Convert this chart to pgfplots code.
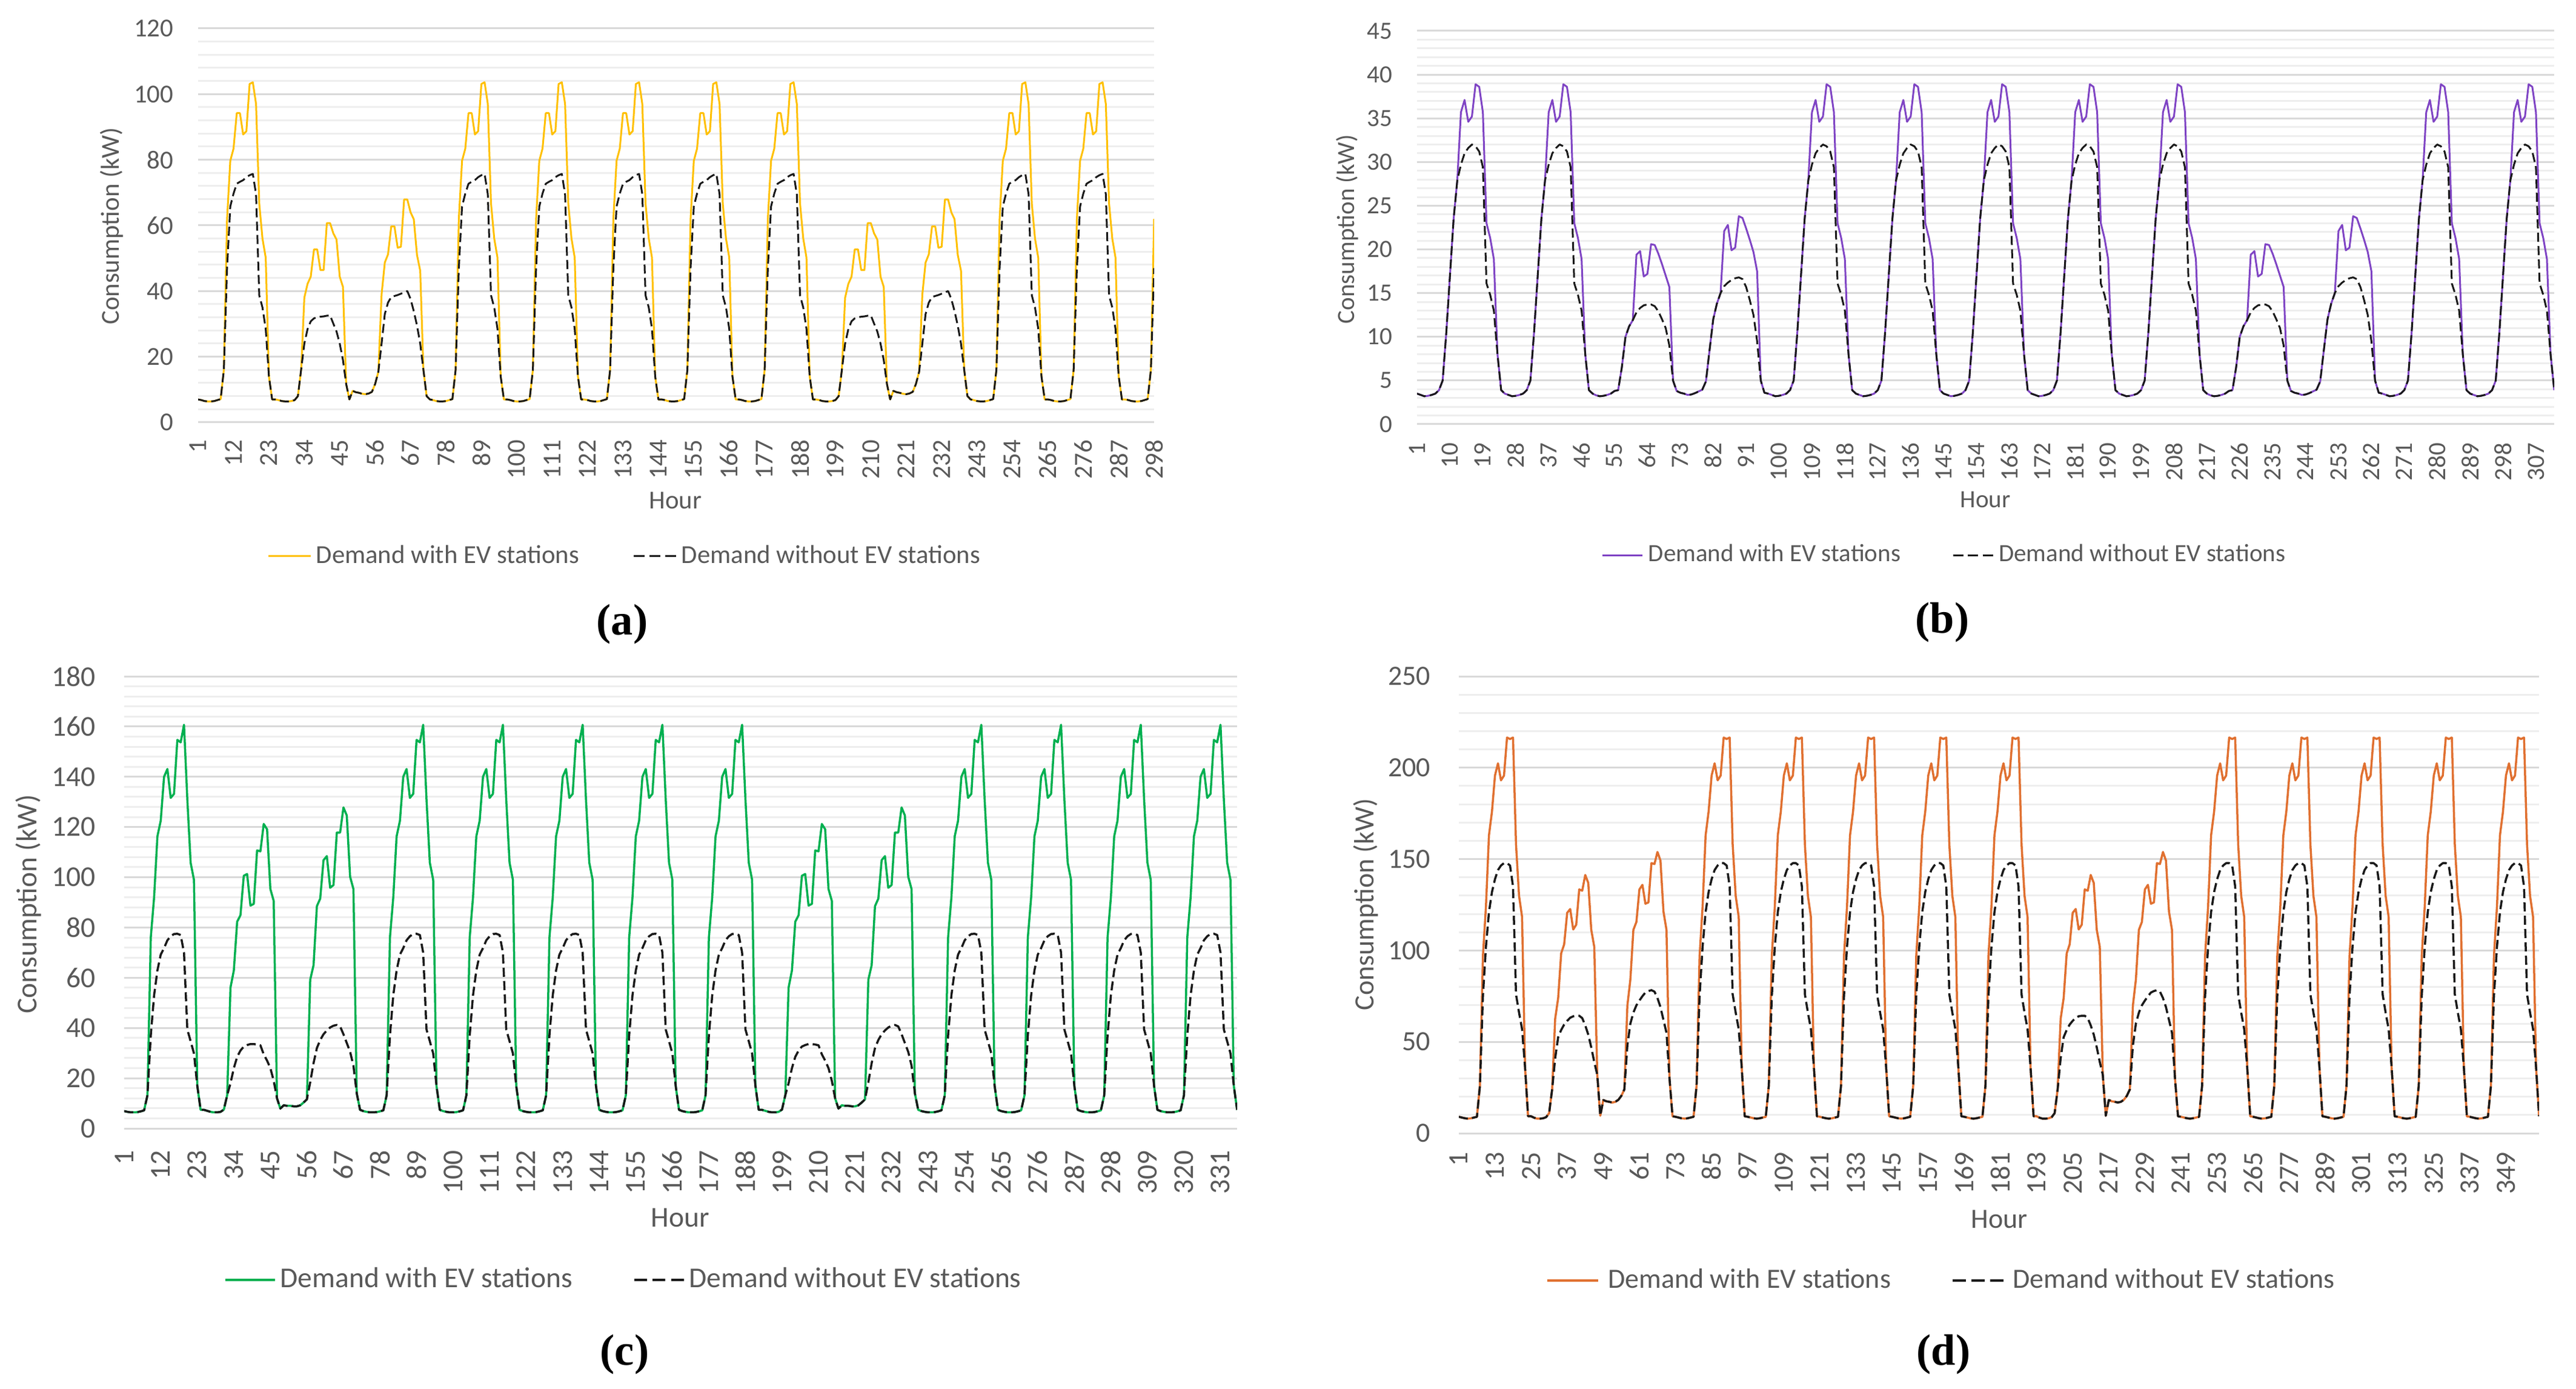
\documentclass[border=0pt]{standalone}
\usepackage{pgfplots}
\pgfplotsset{compat=1.18}
\usepackage{pgfplotstable}
\usepackage{fontspec}
\setmainfont{Carlito}
\newfontfamily\capfont{Liberation Serif}
\definecolor{tickgray}{HTML}{595959}
\definecolor{gridmaj}{HTML}{D9D9D9}
\definecolor{gridmin}{HTML}{EEEEEE}
\definecolor{cA}{HTML}{FFC000}
\definecolor{cB}{HTML}{7F44C4}
\definecolor{cC}{HTML}{00B050}
\definecolor{cD}{HTML}{E07030}

% ---------------- panel (a) ----------------
\pgfplotstableread[row sep=\\]{
w wo\\
7.0 7.0\\ 6.8 6.8\\ 6.5 6.5\\ 6.4 6.4\\ 6.4 6.4\\ 6.5 6.5\\ 6.8 6.8\\ 7.1 7.1\\ 16 16\\ 62 47\\ 79.7 65.8\\ 83.4 69.7\\ 94.2 72.7\\ 94.2 73.3\\ 87.7 73.8\\ 88.7 74.7\\ 103.1 75.3\\ 103.6 75.7\\ 97 69.5\\ 66.7 38.7\\ 56 35\\ 50.2 28.5\\ 14 14\\ 7.0 7.0\\
7.0 7.0\\ 6.8 6.8\\ 6.5 6.5\\ 6.4 6.4\\ 6.4 6.4\\ 6.5 6.5\\ 6.8 6.8\\ 8.0 8.0\\ 16 16\\ 38 24\\ 42.2 28.4\\ 44.4 30.8\\ 52.7 31.7\\ 52.7 32.0\\ 46.4 32.2\\ 46.4 32.3\\ 60.7 32.5\\ 60.7 32.6\\ 57.6 30.1\\ 55.7 27.7\\ 44.4 24\\ 41.3 19\\ 11.7 11.7\\ 7.0 7.0\\
9.6 9.6\\ 9.2 9.2\\ 9.0 9.0\\ 8.7 8.7\\ 8.6 8.6\\ 8.8 8.8\\ 9.3 9.3\\ 11.7 11.7\\ 15.4 15.4\\ 39 24\\ 48.7 33\\ 51.2 36.5\\ 59.7 38.2\\ 59.7 38.5\\ 53.2 38.8\\ 53.5 39.2\\ 67.9 39.6\\ 67.9 40.0\\ 64 37.6\\ 61.9 33.9\\ 51 29.5\\ 46.2 24\\ 16 16\\ 8.0 8.0\\
7.0 7.0\\ 6.8 6.8\\ 6.5 6.5\\ 6.4 6.4\\ 6.4 6.4\\ 6.5 6.5\\ 6.8 6.8\\ 7.1 7.1\\ 16 16\\ 62 47\\ 79.7 65.8\\ 83.4 69.7\\ 94.2 72.7\\ 94.2 73.3\\ 87.7 73.8\\ 88.7 74.7\\ 103.1 75.3\\ 103.6 75.7\\ 97 69.5\\ 66.7 38.7\\ 56 35\\ 50.2 28.5\\ 14 14\\ 7.0 7.0\\
7.0 7.0\\ 6.8 6.8\\ 6.5 6.5\\ 6.4 6.4\\ 6.4 6.4\\ 6.5 6.5\\ 6.8 6.8\\ 7.1 7.1\\ 16 16\\ 62 47\\ 79.7 65.8\\ 83.4 69.7\\ 94.2 72.7\\ 94.2 73.3\\ 87.7 73.8\\ 88.7 74.7\\ 103.1 75.3\\ 103.6 75.7\\ 97 69.5\\ 66.7 38.7\\ 56 35\\ 50.2 28.5\\ 14 14\\ 7.0 7.0\\
7.0 7.0\\ 6.8 6.8\\ 6.5 6.5\\ 6.4 6.4\\ 6.4 6.4\\ 6.5 6.5\\ 6.8 6.8\\ 7.1 7.1\\ 16 16\\ 62 47\\ 79.7 65.8\\ 83.4 69.7\\ 94.2 72.7\\ 94.2 73.3\\ 87.7 73.8\\ 88.7 74.7\\ 103.1 75.3\\ 103.6 75.7\\ 97 69.5\\ 66.7 38.7\\ 56 35\\ 50.2 28.5\\ 14 14\\ 7.0 7.0\\
7.0 7.0\\ 6.8 6.8\\ 6.5 6.5\\ 6.4 6.4\\ 6.4 6.4\\ 6.5 6.5\\ 6.8 6.8\\ 7.1 7.1\\ 16 16\\ 62 47\\ 79.7 65.8\\ 83.4 69.7\\ 94.2 72.7\\ 94.2 73.3\\ 87.7 73.8\\ 88.7 74.7\\ 103.1 75.3\\ 103.6 75.7\\ 97 69.5\\ 66.7 38.7\\ 56 35\\ 50.2 28.5\\ 14 14\\ 7.0 7.0\\
7.0 7.0\\ 6.8 6.8\\ 6.5 6.5\\ 6.4 6.4\\ 6.4 6.4\\ 6.5 6.5\\ 6.8 6.8\\ 7.1 7.1\\ 16 16\\ 62 47\\ 79.7 65.8\\ 83.4 69.7\\ 94.2 72.7\\ 94.2 73.3\\ 87.7 73.8\\ 88.7 74.7\\ 103.1 75.3\\ 103.6 75.7\\ 97 69.5\\ 66.7 38.7\\ 56 35\\ 50.2 28.5\\ 14 14\\ 7.0 7.0\\
7.0 7.0\\ 6.8 6.8\\ 6.5 6.5\\ 6.4 6.4\\ 6.4 6.4\\ 6.5 6.5\\ 6.8 6.8\\ 8.0 8.0\\ 16 16\\ 38 24\\ 42.2 28.4\\ 44.4 30.8\\ 52.7 31.7\\ 52.7 32.0\\ 46.4 32.2\\ 46.4 32.3\\ 60.7 32.5\\ 60.7 32.6\\ 57.6 30.1\\ 55.7 27.7\\ 44.4 24\\ 41.3 19\\ 11.7 11.7\\ 7.0 7.0\\
9.6 9.6\\ 9.2 9.2\\ 9.0 9.0\\ 8.7 8.7\\ 8.6 8.6\\ 8.8 8.8\\ 9.3 9.3\\ 11.7 11.7\\ 15.4 15.4\\ 39 24\\ 48.7 33\\ 51.2 36.5\\ 59.7 38.2\\ 59.7 38.5\\ 53.2 38.8\\ 53.5 39.2\\ 67.9 39.6\\ 67.9 40.0\\ 64 37.6\\ 61.9 33.9\\ 51 29.5\\ 46.2 24\\ 16 16\\ 8.0 8.0\\
7.0 7.0\\ 6.8 6.8\\ 6.5 6.5\\ 6.4 6.4\\ 6.4 6.4\\ 6.5 6.5\\ 6.8 6.8\\ 7.1 7.1\\ 16 16\\ 62 47\\ 79.7 65.8\\ 83.4 69.7\\ 94.2 72.7\\ 94.2 73.3\\ 87.7 73.8\\ 88.7 74.7\\ 103.1 75.3\\ 103.6 75.7\\ 97 69.5\\ 66.7 38.7\\ 56 35\\ 50.2 28.5\\ 14 14\\ 7.0 7.0\\
7.0 7.0\\ 6.8 6.8\\ 6.5 6.5\\ 6.4 6.4\\ 6.4 6.4\\ 6.5 6.5\\ 6.8 6.8\\ 7.1 7.1\\ 16 16\\ 62 47\\ 79.7 65.8\\ 83.4 69.7\\ 94.2 72.7\\ 94.2 73.3\\ 87.7 73.8\\ 88.7 74.7\\ 103.1 75.3\\ 103.6 75.7\\ 97 69.5\\ 66.7 38.7\\ 56 35\\ 50.2 28.5\\ 14 14\\ 7.0 7.0\\
7.0 7.0\\ 6.8 6.8\\ 6.5 6.5\\ 6.4 6.4\\ 6.4 6.4\\ 6.5 6.5\\ 6.8 6.8\\ 7.1 7.1\\ 16 16\\ 62 47\\
}\tabA

% ---------------- panel (b) ----------------
\pgfplotstableread[row sep=\\]{
w wo\\
3.5 3.5\\ 3.35 3.35\\ 3.2 3.2\\ 3.25 3.25\\ 3.35 3.35\\ 3.5 3.5\\ 3.9 3.9\\ 5.0 5.0\\ 10.5 10.5\\ 17 17\\ 23.5 23.5\\ 27.9 27.9\\ 35.7 29.7\\ 37.1 31.0\\ 34.6 31.6\\ 35.2 32.0\\ 38.9 31.8\\ 38.6 31.2\\ 35.7 29.4\\ 23.0 16.1\\ 21.3 14.8\\ 18.9 13.0\\ 8.0 8.0\\ 3.9 3.9\\
3.5 3.5\\ 3.35 3.35\\ 3.2 3.2\\ 3.25 3.25\\ 3.35 3.35\\ 3.5 3.5\\ 3.9 3.9\\ 5.0 5.0\\ 10.5 10.5\\ 17 17\\ 23.5 23.5\\ 27.9 27.9\\ 35.7 29.7\\ 37.1 31.0\\ 34.6 31.6\\ 35.2 32.0\\ 38.9 31.8\\ 38.6 31.2\\ 35.7 29.4\\ 23.0 16.1\\ 21.3 14.8\\ 18.9 13.0\\ 8.0 8.0\\ 3.9 3.9\\
3.5 3.5\\ 3.3 3.3\\ 3.2 3.2\\ 3.25 3.25\\ 3.35 3.35\\ 3.5 3.5\\ 3.8 3.8\\ 3.9 3.9\\ 6.5 6.5\\ 10 10\\ 11.2 11.2\\ 11.9 11.9\\ 19.4 12.8\\ 19.8 13.3\\ 16.9 13.6\\ 17.2 13.7\\ 20.6 13.7\\ 20.5 13.5\\ 19.5 12.9\\ 18.3 12.0\\ 17.0 11.0\\ 15.7 9.0\\ 5.0 5.0\\ 3.8 3.8\\
3.6 3.6\\ 3.5 3.5\\ 3.35 3.35\\ 3.4 3.4\\ 3.55 3.55\\ 3.75 3.75\\ 3.95 3.95\\ 4.9 4.9\\ 8.5 8.5\\ 12 12\\ 13.8 13.8\\ 15.0 15.0\\ 22.1 15.8\\ 22.8 16.2\\ 19.9 16.5\\ 20.2 16.7\\ 23.8 16.8\\ 23.6 16.6\\ 22.4 15.7\\ 21.1 14.2\\ 19.7 12.5\\ 17.5 9.5\\ 5.0 5.0\\ 3.6 3.6\\
3.5 3.5\\ 3.35 3.35\\ 3.2 3.2\\ 3.25 3.25\\ 3.35 3.35\\ 3.5 3.5\\ 3.9 3.9\\ 5.0 5.0\\ 10.5 10.5\\ 17 17\\ 23.5 23.5\\ 27.9 27.9\\ 35.7 29.7\\ 37.1 31.0\\ 34.6 31.6\\ 35.2 32.0\\ 38.9 31.8\\ 38.6 31.2\\ 35.7 29.4\\ 23.0 16.1\\ 21.3 14.8\\ 18.9 13.0\\ 8.0 8.0\\ 3.9 3.9\\
3.5 3.5\\ 3.35 3.35\\ 3.2 3.2\\ 3.25 3.25\\ 3.35 3.35\\ 3.5 3.5\\ 3.9 3.9\\ 5.0 5.0\\ 10.5 10.5\\ 17 17\\ 23.5 23.5\\ 27.9 27.9\\ 35.7 29.7\\ 37.1 31.0\\ 34.6 31.6\\ 35.2 32.0\\ 38.9 31.8\\ 38.6 31.2\\ 35.7 29.4\\ 23.0 16.1\\ 21.3 14.8\\ 18.9 13.0\\ 8.0 8.0\\ 3.9 3.9\\
3.5 3.5\\ 3.35 3.35\\ 3.2 3.2\\ 3.25 3.25\\ 3.35 3.35\\ 3.5 3.5\\ 3.9 3.9\\ 5.0 5.0\\ 10.5 10.5\\ 17 17\\ 23.5 23.5\\ 27.9 27.9\\ 35.7 29.7\\ 37.1 31.0\\ 34.6 31.6\\ 35.2 32.0\\ 38.9 31.8\\ 38.6 31.2\\ 35.7 29.4\\ 23.0 16.1\\ 21.3 14.8\\ 18.9 13.0\\ 8.0 8.0\\ 3.9 3.9\\
3.5 3.5\\ 3.35 3.35\\ 3.2 3.2\\ 3.25 3.25\\ 3.35 3.35\\ 3.5 3.5\\ 3.9 3.9\\ 5.0 5.0\\ 10.5 10.5\\ 17 17\\ 23.5 23.5\\ 27.9 27.9\\ 35.7 29.7\\ 37.1 31.0\\ 34.6 31.6\\ 35.2 32.0\\ 38.9 31.8\\ 38.6 31.2\\ 35.7 29.4\\ 23.0 16.1\\ 21.3 14.8\\ 18.9 13.0\\ 8.0 8.0\\ 3.9 3.9\\
3.5 3.5\\ 3.35 3.35\\ 3.2 3.2\\ 3.25 3.25\\ 3.35 3.35\\ 3.5 3.5\\ 3.9 3.9\\ 5.0 5.0\\ 10.5 10.5\\ 17 17\\ 23.5 23.5\\ 27.9 27.9\\ 35.7 29.7\\ 37.1 31.0\\ 34.6 31.6\\ 35.2 32.0\\ 38.9 31.8\\ 38.6 31.2\\ 35.7 29.4\\ 23.0 16.1\\ 21.3 14.8\\ 18.9 13.0\\ 8.0 8.0\\ 3.9 3.9\\
3.5 3.5\\ 3.3 3.3\\ 3.2 3.2\\ 3.25 3.25\\ 3.35 3.35\\ 3.5 3.5\\ 3.8 3.8\\ 3.9 3.9\\ 6.5 6.5\\ 10 10\\ 11.2 11.2\\ 11.9 11.9\\ 19.4 12.8\\ 19.8 13.3\\ 16.9 13.6\\ 17.2 13.7\\ 20.6 13.7\\ 20.5 13.5\\ 19.5 12.9\\ 18.3 12.0\\ 17.0 11.0\\ 15.7 9.0\\ 5.0 5.0\\ 3.8 3.8\\
3.6 3.6\\ 3.5 3.5\\ 3.35 3.35\\ 3.4 3.4\\ 3.55 3.55\\ 3.75 3.75\\ 3.95 3.95\\ 4.9 4.9\\ 8.5 8.5\\ 12 12\\ 13.8 13.8\\ 15.0 15.0\\ 22.1 15.8\\ 22.8 16.2\\ 19.9 16.5\\ 20.2 16.7\\ 23.8 16.8\\ 23.6 16.6\\ 22.4 15.7\\ 21.1 14.2\\ 19.7 12.5\\ 17.5 9.5\\ 5.0 5.0\\ 3.6 3.6\\
3.5 3.5\\ 3.35 3.35\\ 3.2 3.2\\ 3.25 3.25\\ 3.35 3.35\\ 3.5 3.5\\ 3.9 3.9\\ 5.0 5.0\\ 10.5 10.5\\ 17 17\\ 23.5 23.5\\ 27.9 27.9\\ 35.7 29.7\\ 37.1 31.0\\ 34.6 31.6\\ 35.2 32.0\\ 38.9 31.8\\ 38.6 31.2\\ 35.7 29.4\\ 23.0 16.1\\ 21.3 14.8\\ 18.9 13.0\\ 8.0 8.0\\ 3.9 3.9\\
3.5 3.5\\ 3.35 3.35\\ 3.2 3.2\\ 3.25 3.25\\ 3.35 3.35\\ 3.5 3.5\\ 3.9 3.9\\ 5.0 5.0\\ 10.5 10.5\\ 17 17\\ 23.5 23.5\\ 27.9 27.9\\ 35.7 29.7\\ 37.1 31.0\\ 34.6 31.6\\ 35.2 32.0\\ 38.9 31.8\\ 38.6 31.2\\ 35.7 29.4\\ 23.0 16.1\\ 21.3 14.8\\ 18.9 13.0\\ 8.0 8.0\\ 3.9 3.9\\
}\tabB

% ---------------- panel (c) ----------------
\pgfplotstableread[row sep=\\]{
w wo\\
6.9 6.9\\ 6.6 6.6\\ 6.4 6.4\\ 6.4 6.4\\ 6.5 6.5\\ 6.8 6.8\\ 7.2 7.2\\ 13.2 13.2\\ 76 37\\ 92 53\\ 116.3 62.9\\ 122.5 69.2\\ 140 71.8\\ 143.1 74.9\\ 131.6 76.5\\ 133.2 77.4\\ 154.7 77.5\\ 153.7 77.0\\ 160.7 70\\ 131 39.4\\ 105.8 34.7\\ 99 29.9\\ 17 17\\ 7.4 7.4\\
7.4 7.4\\ 7.0 7.0\\ 6.6 6.6\\ 6.4 6.4\\ 6.4 6.4\\ 6.6 6.6\\ 7.5 7.5\\ 13.2 13.2\\ 56.1 18\\ 62.9 24\\ 82.3 28.5\\ 84.9 31\\ 100.6 32.6\\ 101.3 33.2\\ 88.7 33.6\\ 89.4 33.6\\ 110.7 33.4\\ 110.3 33.1\\ 121.2 29.5\\ 119.1 27\\ 95.3 24\\ 90.6 19\\ 12 12\\ 7.9 7.9\\
9.2 9.2\\ 9.0 9.0\\ 9.0 9.0\\ 8.8 8.8\\ 8.8 8.8\\ 9.2 9.2\\ 10.3 10.3\\ 11.6 11.6\\ 59.2 18.4\\ 65 26\\ 88.5 32\\ 91.5 35.2\\ 106.8 37.5\\ 108.4 39\\ 95.8 40.2\\ 96.9 40.9\\ 117.8 41.2\\ 117.8 40.6\\ 127.8 37.5\\ 124.6 34\\ 100.2 30.5\\ 95.3 25\\ 14 14\\ 7.4 7.4\\
6.9 6.9\\ 6.6 6.6\\ 6.4 6.4\\ 6.4 6.4\\ 6.5 6.5\\ 6.8 6.8\\ 7.2 7.2\\ 13.2 13.2\\ 76 37\\ 92 53\\ 116.3 62.9\\ 122.5 69.2\\ 140 71.8\\ 143.1 74.9\\ 131.6 76.5\\ 133.2 77.4\\ 154.7 77.5\\ 153.7 77.0\\ 160.7 70\\ 131 39.4\\ 105.8 34.7\\ 99 29.9\\ 17 17\\ 7.4 7.4\\
6.9 6.9\\ 6.6 6.6\\ 6.4 6.4\\ 6.4 6.4\\ 6.5 6.5\\ 6.8 6.8\\ 7.2 7.2\\ 13.2 13.2\\ 76 37\\ 92 53\\ 116.3 62.9\\ 122.5 69.2\\ 140 71.8\\ 143.1 74.9\\ 131.6 76.5\\ 133.2 77.4\\ 154.7 77.5\\ 153.7 77.0\\ 160.7 70\\ 131 39.4\\ 105.8 34.7\\ 99 29.9\\ 17 17\\ 7.4 7.4\\
6.9 6.9\\ 6.6 6.6\\ 6.4 6.4\\ 6.4 6.4\\ 6.5 6.5\\ 6.8 6.8\\ 7.2 7.2\\ 13.2 13.2\\ 76 37\\ 92 53\\ 116.3 62.9\\ 122.5 69.2\\ 140 71.8\\ 143.1 74.9\\ 131.6 76.5\\ 133.2 77.4\\ 154.7 77.5\\ 153.7 77.0\\ 160.7 70\\ 131 39.4\\ 105.8 34.7\\ 99 29.9\\ 17 17\\ 7.4 7.4\\
6.9 6.9\\ 6.6 6.6\\ 6.4 6.4\\ 6.4 6.4\\ 6.5 6.5\\ 6.8 6.8\\ 7.2 7.2\\ 13.2 13.2\\ 76 37\\ 92 53\\ 116.3 62.9\\ 122.5 69.2\\ 140 71.8\\ 143.1 74.9\\ 131.6 76.5\\ 133.2 77.4\\ 154.7 77.5\\ 153.7 77.0\\ 160.7 70\\ 131 39.4\\ 105.8 34.7\\ 99 29.9\\ 17 17\\ 7.4 7.4\\
6.9 6.9\\ 6.6 6.6\\ 6.4 6.4\\ 6.4 6.4\\ 6.5 6.5\\ 6.8 6.8\\ 7.2 7.2\\ 13.2 13.2\\ 76 37\\ 92 53\\ 116.3 62.9\\ 122.5 69.2\\ 140 71.8\\ 143.1 74.9\\ 131.6 76.5\\ 133.2 77.4\\ 154.7 77.5\\ 153.7 77.0\\ 160.7 70\\ 131 39.4\\ 105.8 34.7\\ 99 29.9\\ 17 17\\ 7.4 7.4\\
7.4 7.4\\ 7.0 7.0\\ 6.6 6.6\\ 6.4 6.4\\ 6.4 6.4\\ 6.6 6.6\\ 7.5 7.5\\ 13.2 13.2\\ 56.1 18\\ 62.9 24\\ 82.3 28.5\\ 84.9 31\\ 100.6 32.6\\ 101.3 33.2\\ 88.7 33.6\\ 89.4 33.6\\ 110.7 33.4\\ 110.3 33.1\\ 121.2 29.5\\ 119.1 27\\ 95.3 24\\ 90.6 19\\ 12 12\\ 7.9 7.9\\
9.2 9.2\\ 9.0 9.0\\ 9.0 9.0\\ 8.8 8.8\\ 8.8 8.8\\ 9.2 9.2\\ 10.3 10.3\\ 11.6 11.6\\ 59.2 18.4\\ 65 26\\ 88.5 32\\ 91.5 35.2\\ 106.8 37.5\\ 108.4 39\\ 95.8 40.2\\ 96.9 40.9\\ 117.8 41.2\\ 117.8 40.6\\ 127.8 37.5\\ 124.6 34\\ 100.2 30.5\\ 95.3 25\\ 14 14\\ 7.4 7.4\\
6.9 6.9\\ 6.6 6.6\\ 6.4 6.4\\ 6.4 6.4\\ 6.5 6.5\\ 6.8 6.8\\ 7.2 7.2\\ 13.2 13.2\\ 76 37\\ 92 53\\ 116.3 62.9\\ 122.5 69.2\\ 140 71.8\\ 143.1 74.9\\ 131.6 76.5\\ 133.2 77.4\\ 154.7 77.5\\ 153.7 77.0\\ 160.7 70\\ 131 39.4\\ 105.8 34.7\\ 99 29.9\\ 17 17\\ 7.4 7.4\\
6.9 6.9\\ 6.6 6.6\\ 6.4 6.4\\ 6.4 6.4\\ 6.5 6.5\\ 6.8 6.8\\ 7.2 7.2\\ 13.2 13.2\\ 76 37\\ 92 53\\ 116.3 62.9\\ 122.5 69.2\\ 140 71.8\\ 143.1 74.9\\ 131.6 76.5\\ 133.2 77.4\\ 154.7 77.5\\ 153.7 77.0\\ 160.7 70\\ 131 39.4\\ 105.8 34.7\\ 99 29.9\\ 17 17\\ 7.4 7.4\\
6.9 6.9\\ 6.6 6.6\\ 6.4 6.4\\ 6.4 6.4\\ 6.5 6.5\\ 6.8 6.8\\ 7.2 7.2\\ 13.2 13.2\\ 76 37\\ 92 53\\ 116.3 62.9\\ 122.5 69.2\\ 140 71.8\\ 143.1 74.9\\ 131.6 76.5\\ 133.2 77.4\\ 154.7 77.5\\ 153.7 77.0\\ 160.7 70\\ 131 39.4\\ 105.8 34.7\\ 99 29.9\\ 17 17\\ 7.4 7.4\\
6.9 6.9\\ 6.6 6.6\\ 6.4 6.4\\ 6.4 6.4\\ 6.5 6.5\\ 6.8 6.8\\ 7.2 7.2\\ 13.2 13.2\\ 76 37\\ 92 53\\ 116.3 62.9\\ 122.5 69.2\\ 140 71.8\\ 143.1 74.9\\ 131.6 76.5\\ 133.2 77.4\\ 154.7 77.5\\ 153.7 77.0\\ 160.7 70\\ 131 39.4\\ 105.8 34.7\\ 99 29.9\\ 17 17\\ 7.4 7.4\\
}\tabC

% ---------------- panel (d) ----------------
\pgfplotstableread[row sep=\\]{
w wo\\
9.0 9.0\\ 8.6 8.6\\ 8.2 8.2\\ 8.0 8.0\\ 8.2 8.2\\ 8.6 8.6\\ 9.0 9.0\\ 26 26\\ 97 75\\ 124 102\\ 163 121\\ 176 132\\ 195.7 139\\ 202.4 144\\ 193.1 146.5\\ 195.7 147.8\\ 216.5 147.8\\ 215.7 146.5\\ 216.5 135\\ 158 76\\ 129.9 66\\ 118.4 57\\ 36 36\\ 9.3 9.3\\
9.3 9.3\\ 8.5 8.5\\ 8.0 8.0\\ 8.0 8.0\\ 8.2 8.2\\ 8.8 8.8\\ 11 11\\ 24 24\\ 62.6 41\\ 74 52.6\\ 98.4 56.5\\ 103.4 59.5\\ 120.6 61.5\\ 122.7 63.2\\ 111.5 64\\ 114.1 64.3\\ 133.4 64.3\\ 132.7 63\\ 141.3 59\\ 137 54\\ 111.3 47\\ 102 39\\ 32 32\\ 9.6 9.6\\
18.2 18.2\\ 17.5 17.5\\ 17.2 17.2\\ 16.8 16.8\\ 17.2 17.2\\ 18.3 18.3\\ 20.5 20.5\\ 24 24\\ 69.8 48\\ 84.1 60\\ 111.3 66\\ 115.6 70\\ 133.4 72.6\\ 135.9 75\\ 125.6 77\\ 126.3 77.8\\ 147.8 78.3\\ 147.3 77.5\\ 153.9 74\\ 149.2 69\\ 121.3 62\\ 111.3 55\\ 30 30\\ 9.3 9.3\\
9.0 9.0\\ 8.6 8.6\\ 8.2 8.2\\ 8.0 8.0\\ 8.2 8.2\\ 8.6 8.6\\ 9.0 9.0\\ 26 26\\ 97 75\\ 124 102\\ 163 121\\ 176 132\\ 195.7 139\\ 202.4 144\\ 193.1 146.5\\ 195.7 147.8\\ 216.5 147.8\\ 215.7 146.5\\ 216.5 135\\ 158 76\\ 129.9 66\\ 118.4 57\\ 36 36\\ 9.3 9.3\\
9.0 9.0\\ 8.6 8.6\\ 8.2 8.2\\ 8.0 8.0\\ 8.2 8.2\\ 8.6 8.6\\ 9.0 9.0\\ 26 26\\ 97 75\\ 124 102\\ 163 121\\ 176 132\\ 195.7 139\\ 202.4 144\\ 193.1 146.5\\ 195.7 147.8\\ 216.5 147.8\\ 215.7 146.5\\ 216.5 135\\ 158 76\\ 129.9 66\\ 118.4 57\\ 36 36\\ 9.3 9.3\\
9.0 9.0\\ 8.6 8.6\\ 8.2 8.2\\ 8.0 8.0\\ 8.2 8.2\\ 8.6 8.6\\ 9.0 9.0\\ 26 26\\ 97 75\\ 124 102\\ 163 121\\ 176 132\\ 195.7 139\\ 202.4 144\\ 193.1 146.5\\ 195.7 147.8\\ 216.5 147.8\\ 215.7 146.5\\ 216.5 135\\ 158 76\\ 129.9 66\\ 118.4 57\\ 36 36\\ 9.3 9.3\\
9.0 9.0\\ 8.6 8.6\\ 8.2 8.2\\ 8.0 8.0\\ 8.2 8.2\\ 8.6 8.6\\ 9.0 9.0\\ 26 26\\ 97 75\\ 124 102\\ 163 121\\ 176 132\\ 195.7 139\\ 202.4 144\\ 193.1 146.5\\ 195.7 147.8\\ 216.5 147.8\\ 215.7 146.5\\ 216.5 135\\ 158 76\\ 129.9 66\\ 118.4 57\\ 36 36\\ 9.3 9.3\\
9.0 9.0\\ 8.6 8.6\\ 8.2 8.2\\ 8.0 8.0\\ 8.2 8.2\\ 8.6 8.6\\ 9.0 9.0\\ 26 26\\ 97 75\\ 124 102\\ 163 121\\ 176 132\\ 195.7 139\\ 202.4 144\\ 193.1 146.5\\ 195.7 147.8\\ 216.5 147.8\\ 215.7 146.5\\ 216.5 135\\ 158 76\\ 129.9 66\\ 118.4 57\\ 36 36\\ 9.3 9.3\\
9.3 9.3\\ 8.5 8.5\\ 8.0 8.0\\ 8.0 8.0\\ 8.2 8.2\\ 8.8 8.8\\ 11 11\\ 24 24\\ 62.6 41\\ 74 52.6\\ 98.4 56.5\\ 103.4 59.5\\ 120.6 61.5\\ 122.7 63.2\\ 111.5 64\\ 114.1 64.3\\ 133.4 64.3\\ 132.7 63\\ 141.3 59\\ 137 54\\ 111.3 47\\ 102 39\\ 32 32\\ 9.6 9.6\\
18.2 18.2\\ 17.5 17.5\\ 17.2 17.2\\ 16.8 16.8\\ 17.2 17.2\\ 18.3 18.3\\ 20.5 20.5\\ 24 24\\ 69.8 48\\ 84.1 60\\ 111.3 66\\ 115.6 70\\ 133.4 72.6\\ 135.9 75\\ 125.6 77\\ 126.3 77.8\\ 147.8 78.3\\ 147.3 77.5\\ 153.9 74\\ 149.2 69\\ 121.3 62\\ 111.3 55\\ 30 30\\ 9.3 9.3\\
9.0 9.0\\ 8.6 8.6\\ 8.2 8.2\\ 8.0 8.0\\ 8.2 8.2\\ 8.6 8.6\\ 9.0 9.0\\ 26 26\\ 97 75\\ 124 102\\ 163 121\\ 176 132\\ 195.7 139\\ 202.4 144\\ 193.1 146.5\\ 195.7 147.8\\ 216.5 147.8\\ 215.7 146.5\\ 216.5 135\\ 158 76\\ 129.9 66\\ 118.4 57\\ 36 36\\ 9.3 9.3\\
9.0 9.0\\ 8.6 8.6\\ 8.2 8.2\\ 8.0 8.0\\ 8.2 8.2\\ 8.6 8.6\\ 9.0 9.0\\ 26 26\\ 97 75\\ 124 102\\ 163 121\\ 176 132\\ 195.7 139\\ 202.4 144\\ 193.1 146.5\\ 195.7 147.8\\ 216.5 147.8\\ 215.7 146.5\\ 216.5 135\\ 158 76\\ 129.9 66\\ 118.4 57\\ 36 36\\ 9.3 9.3\\
9.0 9.0\\ 8.6 8.6\\ 8.2 8.2\\ 8.0 8.0\\ 8.2 8.2\\ 8.6 8.6\\ 9.0 9.0\\ 26 26\\ 97 75\\ 124 102\\ 163 121\\ 176 132\\ 195.7 139\\ 202.4 144\\ 193.1 146.5\\ 195.7 147.8\\ 216.5 147.8\\ 215.7 146.5\\ 216.5 135\\ 158 76\\ 129.9 66\\ 118.4 57\\ 36 36\\ 9.3 9.3\\
9.0 9.0\\ 8.6 8.6\\ 8.2 8.2\\ 8.0 8.0\\ 8.2 8.2\\ 8.6 8.6\\ 9.0 9.0\\ 26 26\\ 97 75\\ 124 102\\ 163 121\\ 176 132\\ 195.7 139\\ 202.4 144\\ 193.1 146.5\\ 195.7 147.8\\ 216.5 147.8\\ 215.7 146.5\\ 216.5 135\\ 158 76\\ 129.9 66\\ 118.4 57\\ 36 36\\ 9.3 9.3\\
9.0 9.0\\ 8.6 8.6\\ 8.2 8.2\\ 8.0 8.0\\ 8.2 8.2\\ 8.6 8.6\\ 9.0 9.0\\ 26 26\\ 97 75\\ 124 102\\ 163 121\\ 176 132\\ 195.7 139\\ 202.4 144\\ 193.1 146.5\\ 195.7 147.8\\ 216.5 147.8\\ 215.7 146.5\\ 216.5 135\\ 158 76\\ 129.9 66\\ 118.4 57\\ 36 36\\ 9.3 9.3\\
}\tabD

\pgfplotsset{
  panel/.style={
    scale only axis, anchor=south west,
    axis line style={draw=none},
    major tick length=0pt, minor tick length=0pt,
    ymin=0, ymajorgrids=true, yminorgrids=true, minor y tick num=4,
    major grid style={line width=0.6pt, color=gridmaj},
    minor grid style={line width=0.6pt, color=gridmin},
    /pgf/number format/assume math mode=true,
    tick label style={text=tickgray},
    xticklabel style={rotate=90, anchor=east, inner sep=0pt},
    yticklabel style={anchor=east, inner sep=0pt},
    xlabel={Hour}, ylabel={Consumption (kW)},
    legend columns=2,
    legend cell align=left,
    legend style={draw=none, fill=none, inner sep=0pt, text=tickgray,
      nodes={inner sep=0pt}},
  },
  withEV/.style={line width=0.6pt, line join=round},
  noEV/.style={black!90, line width=0.6pt, line join=round, dash pattern=on 3pt off 1.4pt},
}

\begin{document}
\begin{tikzpicture}
\path[use as bounding box] (0,0) rectangle (850.4pt,458.2pt);

% (a)
\begin{axis}[panel, at={(65.4pt,318.8pt)}, width=315.6pt, height=130pt,
  xmin=1, xmax=298, ymax=120, ytick={0,20,...,120}, xtick={1,12,...,298},
  font=\fontsize{8.55}{10}\selectfont,
  yticklabel shift=8pt, xticklabel shift=5.6pt,
  xlabel style={at={(0.4994,-0.1985)}, anchor=center, text=tickgray},
  ylabel style={at={(-0.0906,0.4985)}, anchor=center, text=tickgray},
  legend style={at={(0.4455,-0.34)}, anchor=center,
    /tikz/every odd column/.append style={column sep=1.4pt},
    /tikz/every even column/.append style={column sep=17.8pt}},
  legend image code/.code={\draw[#1] (0pt,0pt) -- (14pt,0pt);},
]
\addplot[withEV, cA] table[x expr=\coordindex+1, y=w] {\tabA};
\addlegendentry{Demand with EV stations}
\addplot[noEV, legend image post style={dash pattern=on 3.6pt off 1.6pt}] table[x expr=\coordindex+1, y=wo] {\tabA};
\addlegendentry{Demand without EV stations}
\end{axis}

% (b)
\begin{axis}[panel, at={(467.8pt,318.2pt)}, width=375.4pt, height=129.8pt,
  xmin=1, xmax=312, ymax=45, ytick={0,5,...,45}, xtick={1,10,...,307},
  font=\fontsize{8.2}{10}\selectfont,
  yticklabel shift=8pt, xticklabel shift=6pt,
  xlabel style={at={(0.4997,-0.1926)}, anchor=center, text=tickgray},
  ylabel style={at={(-0.0613,0.496)}, anchor=center, text=tickgray},
  legend style={at={(0.463,-0.333)}, anchor=center,
    /tikz/every odd column/.append style={column sep=1.6pt},
    /tikz/every even column/.append style={column sep=17pt}},
  legend image code/.code={\draw[#1] (0pt,0pt) -- (13.2pt,0pt);},
]
\addplot[withEV, cB] table[x expr=\coordindex+1, y=w] {\tabB};
\addlegendentry{Demand with EV stations}
\addplot[noEV, legend image post style={dash pattern=on 3.4pt off 1.5pt}] table[x expr=\coordindex+1, y=wo] {\tabB};
\addlegendentry{Demand without EV stations}
\end{axis}

% (c)
\begin{axis}[panel, at={(41pt,85.8pt)}, width=367.4pt, height=149.2pt,
  xmin=1, xmax=336, ymax=180, ytick={0,20,...,180}, xtick={1,12,...,331},
  font=\fontsize{9.5}{11}\selectfont,
  yticklabel shift=9.2pt, xticklabel shift=7pt,
  xlabel style={at={(0.4997,-0.197)}, anchor=center, text=tickgray},
  ylabel style={at={(-0.086,0.496)}, anchor=center, text=tickgray},
  legend style={at={(0.448,-0.335)}, anchor=center,
    /tikz/every odd column/.append style={column sep=1.4pt},
    /tikz/every even column/.append style={column sep=20pt}},
  legend image code/.code={\draw[#1] (0pt,0pt) -- (16.4pt,0pt);},
]
\addplot[withEV, cC, line width=0.7pt] table[x expr=\coordindex+1, y=w] {\tabC};
\addlegendentry{Demand with EV stations}
\addplot[noEV, line width=0.7pt, legend image post style={dash pattern=on 4.2pt off 1.9pt}] table[x expr=\coordindex+1, y=wo] {\tabC};
\addlegendentry{Demand without EV stations}
\end{axis}

% (d)
\begin{axis}[panel, at={(481.6pt,84.2pt)}, width=356.6pt, height=150.8pt,
  xmin=1, xmax=360, ymax=250, ytick={0,50,...,250}, xtick={1,13,...,349},
  font=\fontsize{9.2}{11}\selectfont,
  yticklabel shift=9.2pt, xticklabel shift=6pt,
  xlabel style={at={(0.5003,-0.188)}, anchor=center, text=tickgray},
  ylabel style={at={(-0.0864,0.501)}, anchor=center, text=tickgray},
  legend style={at={(0.4459,-0.322)}, anchor=center,
    /tikz/every odd column/.append style={column sep=2.8pt},
    /tikz/every even column/.append style={column sep=20pt}},
  legend image code/.code={\draw[#1] (0pt,0pt) -- (16.8pt,0pt);},
]
\addplot[withEV, cD, line width=0.7pt] table[x expr=\coordindex+1, y=w] {\tabD};
\addlegendentry{Demand with EV stations}
\addplot[noEV, line width=0.7pt, legend image post style={dash pattern=on 4.4pt off 1.8pt}] table[x expr=\coordindex+1, y=wo] {\tabD};
\addlegendentry{Demand without EV stations}
\end{axis}

\node[font=\capfont\bfseries\fontsize{14.5}{16}\selectfont] at (205.4pt,252.2pt) {(a)};
\node[font=\capfont\bfseries\fontsize{14.5}{16}\selectfont] at (641.2pt,252.8pt) {(b)};
\node[font=\capfont\bfseries\fontsize{14.5}{16}\selectfont] at (206.2pt,11.2pt) {(c)};
\node[font=\capfont\bfseries\fontsize{14.5}{16}\selectfont] at (641.6pt,11.2pt) {(d)};
\end{tikzpicture}
\end{document}
